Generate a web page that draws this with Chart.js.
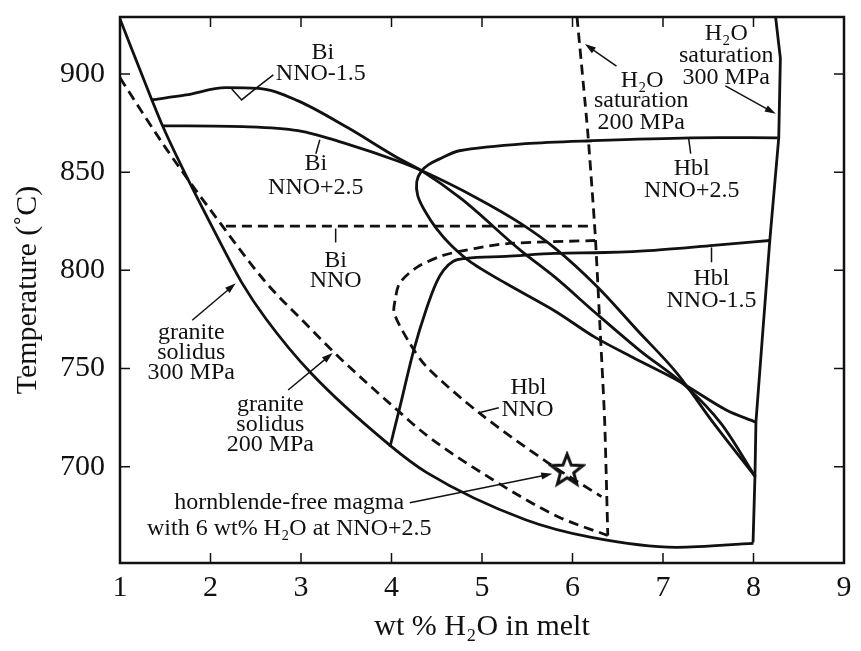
<!DOCTYPE html>
<html>
<head>
<meta charset="utf-8">
<script src="https://cdn.jsdelivr.net/npm/chart.js@4"></script>
<style>
  body { margin: 0; background: #fff; }
</style>
</head>
<body>
<canvas id="grafico" width="861" height="651"></canvas>
<script>
// wt% H2O (x) and temperature in degC (y)
const xTicks = [1, 2, 3, 4, 5, 6, 7, 8, 9];
const tempTicks = [700, 750, 800, 850, 900];

const solidus300 = [[1, 928], [1.35, 887], [1.47, 873.6], [1.69, 852], [2.02, 822], [2.344, 793.9],
  [2.61, 775.5], [3.11, 747.7], [3.98, 711], [4.39, 697], [5.48, 673], [6.21, 664], [7.15, 659], [8.0, 661]];
const solidus200 = [[1.0, 898], [1.51, 862], [2.06, 827], [2.61, 794], [3.08, 771.5], [3.37, 758],
  [4.06, 729], [4.39, 716], [5.12, 693.4], [5.84, 674.6], [6.39, 665]];
const sat200 = [[6.05, 929], [6.17, 869.5], [6.25, 818.8], [6.30, 774.6], [6.355, 723.8], [6.39, 665]];
const sat300 = [[8.244, 929], [8.297, 908], [8.279, 867.5], [8.18, 815.2], [8.104, 769.5],
  [8.027, 722.8], [8.016, 694.9], [7.995, 661.4]];
const biMinus15 = [[1.346, 886.8], [1.729, 889.3], [2.166, 893], [2.53, 892.7], [2.967, 886.3],
  [3.514, 872.7], [4.06, 857.5], [4.33, 850.8], [4.77, 836.5], [5.426, 810.2], [5.809, 796.4],
  [6.246, 778.7], [6.738, 759.4], [7.262, 740.6], [7.645, 721.8], [8.02, 694.9]];
const biPlus25 = [[1.473, 873.6], [2.421, 873.1], [2.967, 871.1], [3.514, 864.3], [4.06, 855.8],
  [4.33, 850.8], [4.956, 836.5], [5.426, 823.9], [5.809, 811.2], [6.279, 791.4], [6.716, 769.5],
  [7.153, 747.7], [7.557, 722.3], [8.02, 694.9]];
const biNNO = [[2.17, 822.5], [6.24, 822.5]];
const hblPlus25 = [[8.268, 867.5], [7.306, 867.5], [6.213, 866], [5.481, 864.5], [4.749, 860.9],
  [4.52, 856.5], [4.41, 853.8], [4.33, 850.5], [4.279, 845.2], [4.29, 838.1], [4.366, 830.5],
  [4.497, 821.3], [4.661, 812.7], [4.88, 804.1], [5.262, 793.4], [5.809, 779.2], [6.246, 766],
  [6.683, 755.3], [7.153, 744.2], [7.699, 728.9], [8.02, 722.8]];
const hblMinus15 = [[3.984, 710.2], [4.093, 730.5], [4.246, 759.4], [4.388, 780.7], [4.497, 793.9],
  [4.574, 800], [4.683, 804.6], [4.825, 806.1], [5.262, 807.1], [5.809, 808.6], [6.355, 809.1],
  [6.902, 810.2], [7.557, 812.7], [8.18, 815.2]];
const hblNNO = [[6.25, 815.2], [5.30, 813.7], [4.93, 811.2], [4.57, 807.6], [4.28, 801.5],
  [4.09, 793.4], [4.04, 784.8], [4.03, 778.2], [4.20, 763], [4.39, 750.8], [4.97, 727.4],
  [5.73, 702], [6.32, 684.8]];
const magma = [[5.94, 698.5]];

// leader ticks and arrows (data coordinates)
const leaders = [
  [[2.235, 892.4], [2.344, 886.8], [2.508, 892.9], [2.694, 899.5]],
  [[3.208, 866.5], [3.164, 859.4]],
  [[3.383, 821.3], [3.383, 814.2]],
  [[7.284, 867], [7.306, 859.4]],
  [[7.536, 811.7], [7.536, 804.1]],
  [[4.956, 727.4], [5.186, 730]]
];
const arrows = [
  [[6.486, 904], [6.137, 915.2]],
  [[7.689, 893.9], [8.246, 879.7]],
  [[1.798, 774.6], [2.279, 793.4]],
  [[2.858, 739.1], [3.35, 757.9]],
  [[4.202, 681.7], [5.776, 696.4]]
];
const labels = [
  ["Bi", 3.24, 910.7], ["NNO-1.5", 3.219, 900],
  ["Bi", 3.164, 854.3], ["NNO+2.5", 3.164, 842.1],
  ["Bi", 3.383, 805.1], ["NNO", 3.383, 794.9],
  ["H₂O", 7.699, 920.3], ["saturation", 7.699, 909.1], ["300 MPa", 7.699, 898],
  ["H₂O", 6.77, 896.4], ["saturation", 6.76, 886.3], ["200 MPa", 6.76, 875.1],
  ["Hbl", 7.317, 851.8], ["NNO+2.5", 7.317, 840.6],
  ["Hbl", 7.536, 795.9], ["NNO-1.5", 7.536, 784.8],
  ["Hbl", 5.514, 740.1], ["NNO", 5.503, 728.9],
  ["granite", 1.787, 768.5], ["solidus", 1.787, 757.9], ["300 MPa", 1.787, 747.7],
  ["granite", 2.661, 731.5], ["solidus", 2.661, 721.3], ["200 MPa", 2.661, 711.2],
  ["hornblende-free magma", 2.87, 681.7], ["with 6 wt% H₂O at NNO+2.5", 2.87, 668.5]
];

const serif = "'Liberation Serif', 'Times New Roman', serif";
const ink = "#111";

function pts(arr) {
  return arr.map(p => ({ x: p[0], y: p[1] }));
}

function curva(arr, dashed, modo) {
  const ds = {
    data: pts(arr),
    showLine: true,
    borderColor: ink,
    borderWidth: 2.8,
    borderDash: dashed ? [10, 6] : [],
    pointRadius: 0,
    fill: false
  };
  if (modo === "monotone") {
    ds.cubicInterpolationMode = "monotone";
    ds.tension = 0.4;
  } else {
    ds.tension = modo === undefined ? 0.3 : modo;
  }
  return ds;
}

// open five-point star for the magma marker
const estrella = document.createElement("canvas");
estrella.width = 38;
estrella.height = 38;
(function () {
  const c = estrella.getContext("2d");
  c.beginPath();
  for (let i = 0; i < 10; i++) {
    const r = i % 2 === 0 ? 16.5 : 7;
    const a = -Math.PI / 2 + i * Math.PI / 5;
    const px = 19 + r * Math.cos(a), py = 20 + r * Math.sin(a);
    if (i === 0) c.moveTo(px, py); else c.lineTo(px, py);
  }
  c.closePath();
  c.fillStyle = "#fff";
  c.fill();
  c.lineWidth = 3;
  c.strokeStyle = ink;
  c.stroke();
})();

const marco = {
  id: "marco",
  afterDatasetsDraw(chart) {
    const { ctx, chartArea: a, scales: { x, y } } = chart;
    ctx.save();
    ctx.strokeStyle = ink;
    ctx.lineWidth = 2.5;
    ctx.strokeRect(a.left, a.top, a.right - a.left, a.bottom - a.top);
    ctx.lineWidth = 1.5;
    ctx.beginPath();
    xTicks.forEach(v => {
      const px = x.getPixelForValue(v);
      ctx.moveTo(px, a.bottom); ctx.lineTo(px, a.bottom - 10);
      ctx.moveTo(px, a.top); ctx.lineTo(px, a.top + 10);
    });
    tempTicks.forEach(v => {
      const py = y.getPixelForValue(v);
      ctx.moveTo(a.left, py); ctx.lineTo(a.left + 10, py);
      ctx.moveTo(a.right, py); ctx.lineTo(a.right - 10, py);
    });
    ctx.stroke();

    // leaders
    leaders.forEach(l => {
      ctx.beginPath();
      l.forEach((p, i) => {
        const px = x.getPixelForValue(p[0]), py = y.getPixelForValue(p[1]);
        if (i === 0) ctx.moveTo(px, py); else ctx.lineTo(px, py);
      });
      ctx.stroke();
    });

    // arrows
    ctx.fillStyle = ink;
    arrows.forEach(ar => {
      const x0 = x.getPixelForValue(ar[0][0]), y0 = y.getPixelForValue(ar[0][1]);
      const x1 = x.getPixelForValue(ar[1][0]), y1 = y.getPixelForValue(ar[1][1]);
      const ang = Math.atan2(y1 - y0, x1 - x0);
      ctx.beginPath();
      ctx.moveTo(x0, y0);
      ctx.lineTo(x1 - 6 * Math.cos(ang), y1 - 6 * Math.sin(ang));
      ctx.stroke();
      ctx.beginPath();
      ctx.moveTo(x1, y1);
      ctx.lineTo(x1 - 11 * Math.cos(ang) + 3.5 * Math.sin(ang), y1 - 11 * Math.sin(ang) - 3.5 * Math.cos(ang));
      ctx.lineTo(x1 - 11 * Math.cos(ang) - 3.5 * Math.sin(ang), y1 - 11 * Math.sin(ang) + 3.5 * Math.cos(ang));
      ctx.closePath();
      ctx.fill();
    });

    // field labels
    ctx.font = "24px " + serif;
    ctx.textAlign = "center";
    ctx.textBaseline = "middle";
    labels.forEach(t => {
      ctx.fillText(t[0], x.getPixelForValue(t[1]), y.getPixelForValue(t[2]));
    });
    ctx.restore();
  }
};

new Chart(document.getElementById("grafico"), {
  type: "scatter",
  data: {
    datasets: [
      curva(solidus300, false, "monotone"),
      curva(solidus200, true, "monotone"),
      curva(sat200, true, 0.2),
      curva(sat300, false, 0),
      curva(biMinus15, false, "monotone"),
      curva(biPlus25, false, "monotone"),
      curva(biNNO, true, 0),
      curva(hblPlus25, false),
      curva(hblMinus15, false, "monotone"),
      curva(hblNNO, true),
      {
        data: pts(magma),
        pointStyle: estrella,
        pointRadius: 16,
        showLine: false
      }
    ]
  },
  plugins: [marco],
  options: {
    responsive: false,
    animation: false,
    layout: { padding: { top: 16, right: 9, left: 0, bottom: 0 } },
    plugins: { legend: { display: false }, tooltip: { enabled: false } },
    scales: {
      x: {
        type: "linear",
        min: 1,
        max: 9,
        afterBuildTicks: s => { s.ticks = xTicks.map(v => ({ value: v })); },
        afterFit: s => { s.height = 88; s.paddingLeft = 0; s.paddingRight = 0; },
        grid: { display: false, drawTicks: false },
        border: { display: false },
        ticks: { color: ink, padding: 7, font: { family: serif, size: 30 } },
        title: {
          display: true,
          text: "wt % H₂O in melt",
          color: ink,
          font: { family: serif, size: 30 },
          padding: { top: 0, bottom: 6 }
        }
      },
      y: {
        type: "linear",
        min: 651,
        max: 929,
        afterBuildTicks: s => { s.ticks = tempTicks.map(v => ({ value: v })); },
        afterFit: s => { s.width = 120; s.paddingTop = 0; s.paddingBottom = 0; },
        grid: { display: false, drawTicks: false },
        border: { display: false },
        ticks: { color: ink, padding: 15, font: { family: serif, size: 30 } },
        title: {
          display: true,
          text: "Temperature (˚C)",
          color: ink,
          font: { family: serif, size: 30 },
          padding: { top: 10, bottom: 0 }
        }
      }
    }
  }
});
</script>
</body>
</html>
